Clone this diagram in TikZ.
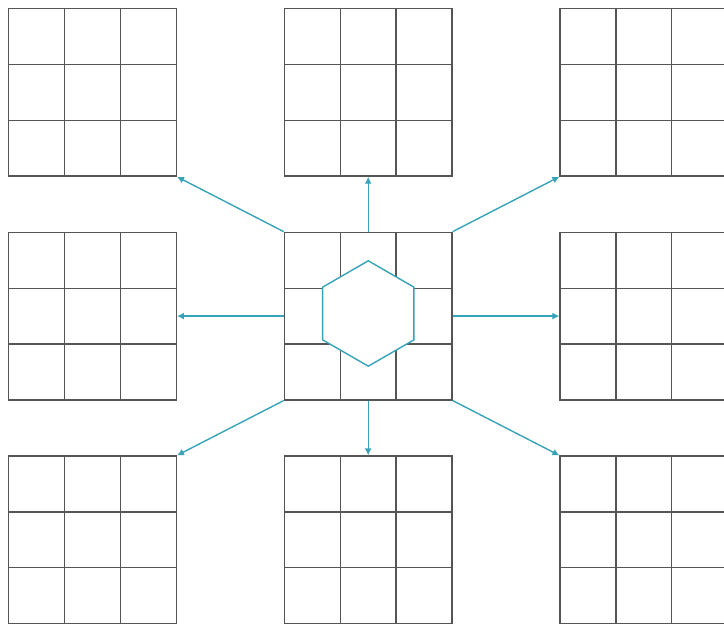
\documentclass[tikz,border=0pt]{standalone}
\usetikzlibrary{shapes.geometric,arrows.meta,calc}
\definecolor{gridgray}{RGB}{85,85,85}
\definecolor{teal1}{RGB}{55,163,185}
\begin{document}
\begin{tikzpicture}[x=1pt,y=1pt,
  gridbox/.style={draw=gridgray,line width=1.3pt,minimum width=167.6pt,minimum height=167.6pt,inner sep=0pt,
    path picture={
      \draw[gridgray,line width=1.3pt]
        ($(path picture bounding box.south west)!1/3!(path picture bounding box.south east)$) -- ($(path picture bounding box.north west)!1/3!(path picture bounding box.north east)$)
        ($(path picture bounding box.south west)!2/3!(path picture bounding box.south east)$) -- ($(path picture bounding box.north west)!2/3!(path picture bounding box.north east)$)
        ($(path picture bounding box.south west)!1/3!(path picture bounding box.north west)$) -- ($(path picture bounding box.south east)!1/3!(path picture bounding box.north east)$)
        ($(path picture bounding box.south west)!2/3!(path picture bounding box.north west)$) -- ($(path picture bounding box.south east)!2/3!(path picture bounding box.north east)$);
    }},
  conn/.style={draw=teal1,line width=1.4pt,-{Latex[length=7pt,width=7pt]}},
  hexa/.style={regular polygon,regular polygon sides=6,shape border rotate=30,draw=teal1,fill=white,line width=1.4pt,minimum size=105.4pt,inner sep=0pt}
]
\useasboundingbox (0,0) rectangle (724,629);
\clip (0,0) rectangle (724,629);
\node[gridbox] (nw) at (92.5,536.7) {};
\node[gridbox] (n)  at (368.2,536.7) {};
\node[gridbox] (ne) at (643.9,536.7) {};
\node[gridbox] (w)  at (92.5,312.9) {};
\node[gridbox] (c)  at (368.2,312.9) {};
\node[gridbox] (e)  at (643.9,312.9) {};
\node[gridbox] (sw) at (92.5,89.1) {};
\node[gridbox] (s)  at (368.2,89.1) {};
\node[gridbox] (se) at (643.9,89.1) {};
\node[hexa] (hex) at (368.3,315.5) {};
\draw[conn] (c.north west) -- (nw.south east);
\draw[conn] (c.north) -- (n.south);
\draw[conn] (c.north east) -- (ne.south west);
\draw[conn] (c.west) -- (w.east);
\draw[conn] (c.east) -- (e.west);
\draw[conn] (c.south west) -- (sw.north east);
\draw[conn] (c.south) -- (s.north);
\draw[conn] (c.south east) -- (se.north west);
\end{tikzpicture}
\end{document}
